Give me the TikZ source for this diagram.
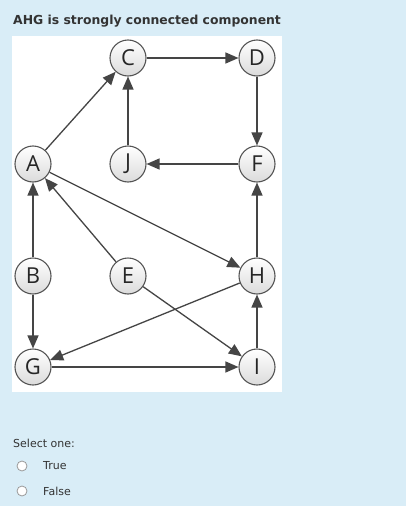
\documentclass[tikz,border=0pt]{standalone}
\usepackage{fontspec}
\setmainfont{DejaVu Sans}
\newfontfamily\nodefont{Open Sans}
\usetikzlibrary{arrows.meta}
\definecolor{bg}{HTML}{D9EDF7}
\definecolor{edgec}{HTML}{454545}
\definecolor{txt}{HTML}{333333}
\definecolor{ring}{HTML}{555555}
\begin{document}
\begin{tikzpicture}[x=1pt,y=-1pt,
  vtx/.style={circle, draw=ring, line width=1.1pt, top color=white, bottom color=black!14,
    minimum size=36pt, inner sep=0pt, font=\nodefont\fontsize{22}{22}\selectfont, text=black!85},
  edg/.style={draw=edgec, line width=1.3pt, -{Triangle[length=13pt,width=11pt]}},
  lbl/.style={anchor=west, inner sep=0pt, text=txt},
  radio/.style={circle, draw=black!40, fill=white, line width=0.8pt, minimum size=10pt, inner sep=0pt}]
\useasboundingbox (0,0) rectangle (406,506);
\fill[bg] (0,0) rectangle (406,506);
\fill[white] (12,36) rectangle (282,392);
\node[lbl, font=\bfseries\fontsize{12.4}{14}\selectfont] (title) at (13,21) {AHG is strongly connected component};
\node[vtx] (C) at (128,58) {C};
\node[vtx] (D) at (257,58) {D};
\node[vtx] (A) at (33,164) {A};
\node[vtx] (J) at (128,164) {J};
\node[vtx] (F) at (257,164) {F};
\node[vtx] (B) at (33,276) {B};
\node[vtx] (E) at (128,276) {E};
\node[vtx] (H) at (257,276) {H};
\node[vtx] (G) at (33,367) {G};
\node[vtx] (I) at (257,367) {I};
\draw[edg] (A) -- (C);
\draw[edg] (C) -- (D);
\draw[edg] (D) -- (F);
\draw[edg] (F) -- (J);
\draw[edg] (J) -- (C);
\draw[edg] (A) -- (H);
\draw[edg] (E) -- (A);
\draw[edg] (B) -- (A);
\draw[edg] (B) -- (G);
\draw[edg] (H) -- (G);
\draw[edg] (E) -- (I);
\draw[edg] (G) -- (I);
\draw[edg] (I) -- (H);
\draw[edg] (H) -- (F);
\node[lbl, font=\fontsize{11}{13}\selectfont] (sel) at (13,443) {Select one:};
\node[radio] (r1) at (22,466) {};
\node[radio] (r2) at (22,491) {};
\node[lbl, font=\fontsize{11}{13}\selectfont] (t) at (43,466) {True};
\node[lbl, font=\fontsize{11}{13}\selectfont] (f) at (43,491) {False};
\end{tikzpicture}
\end{document}
